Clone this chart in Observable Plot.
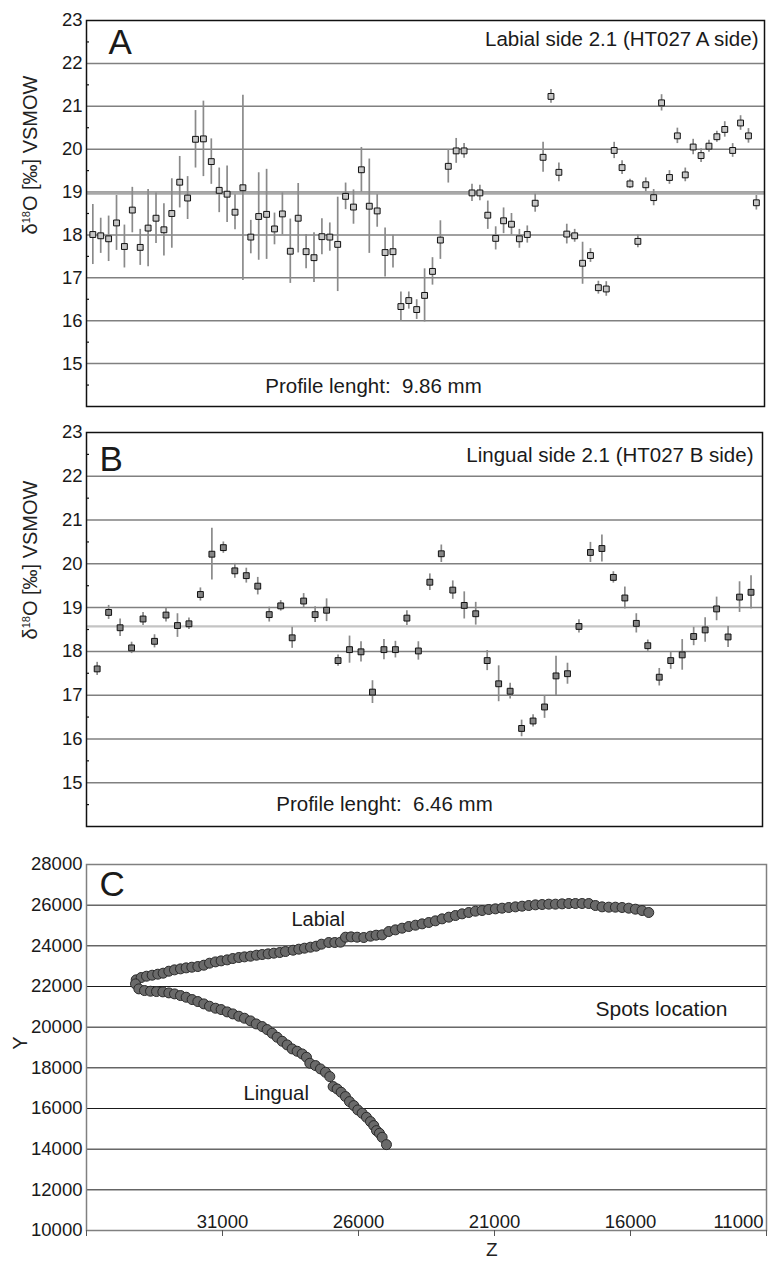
<!DOCTYPE html>
<html><head><meta charset="utf-8">
<script src="https://cdn.jsdelivr.net/npm/d3@7"></script>
<script src="https://cdn.jsdelivr.net/npm/@observablehq/plot@0.6"></script>
<style>
body{margin:0;background:#fff;font-family:"Liberation Sans",Arial,sans-serif;}
#wrap{position:relative;width:768px;height:1261px;overflow:hidden;background:#fff;}
.panel{position:absolute;left:0;}
.ylab{position:absolute;white-space:nowrap;text-align:center;transform:rotate(-90deg);color:#222;font-size:20px;height:24px;line-height:24px;width:220px;}
.ylab sup{font-size:11px;line-height:0;vertical-align:7px;}
.xlab{position:absolute;color:#222;font-size:19px;line-height:19px;}
</style></head><body><div id="wrap">
<div id="pa" class="panel" style="top:0"></div>
<div id="pb" class="panel" style="top:420px"></div>
<div id="pc" class="panel" style="top:840px"></div>
<div class="ylab" style="left:-80px;top:143px">δ<sup>18</sup>O [‰] VSMOW</div>
<div class="ylab" style="left:-80px;top:548px">δ<sup>18</sup>O [‰] VSMOW</div>
<div class="ylab" style="left:-90px;top:1031px">Y</div>
<div class="xlab" style="left:486px;top:1240px">Z</div>
</div>
<script>
// ---- Panel A: labial side, δ18O per spot (‰ VSMOW) and ± error
const labialD18O = [18.01,17.98,17.91,18.28,17.73,18.58,17.71,18.16,18.39,18.12,18.50,19.23,18.86,20.23,20.24,19.71,19.04,18.95,18.53,19.10,17.95,18.43,18.48,18.14,18.49,17.62,18.39,17.61,17.47,17.96,17.95,17.78,18.90,18.65,19.52,18.67,18.56,17.59,17.61,16.33,16.47,16.26,16.59,17.15,17.88,19.60,19.96,19.96,18.98,18.98,18.46,17.92,18.33,18.25,17.91,18.01,18.74,19.81,21.23,19.46,18.02,17.98,17.34,17.52,16.77,16.74,19.97,19.57,19.19,17.85,19.17,18.87,21.08,19.34,20.31,19.40,20.05,19.85,20.07,20.29,20.46,19.97,20.61,20.31,18.75];
const labialErr = [0.70,0.41,0.53,0.64,0.50,0.53,0.42,0.90,0.59,0.61,0.81,0.60,0.50,0.67,0.88,0.53,0.52,0.66,0.41,2.16,0.39,1.02,1.05,0.37,0.49,0.75,0.81,0.40,0.58,0.42,0.33,1.10,0.31,0.40,0.52,1.10,0.38,0.57,0.38,0.34,0.20,0.23,0.62,0.32,0.45,0.39,0.29,0.17,0.20,0.18,0.33,0.27,0.30,0.25,0.22,0.20,0.21,0.35,0.16,0.22,0.23,0.15,0.49,0.16,0.15,0.17,0.19,0.16,0.11,0.15,0.16,0.19,0.19,0.16,0.18,0.16,0.18,0.16,0.14,0.13,0.18,0.16,0.17,0.17,0.17];
const labialMean = 18.97;
// ---- Panel B: lingual side
const lingualD18O = [17.60,18.89,18.54,18.08,18.74,18.23,18.83,18.59,18.63,19.30,20.22,20.37,19.84,19.73,19.49,18.84,19.04,18.31,19.15,18.84,18.94,17.79,18.04,17.99,17.07,18.04,18.04,18.76,18.01,19.58,20.23,19.40,19.05,18.86,17.79,17.26,17.09,16.24,16.41,16.73,17.44,17.49,18.57,20.26,20.35,19.69,19.22,18.64,18.13,17.41,17.79,17.92,18.34,18.49,18.97,18.33,19.24,19.35];
const lingualErr = [0.15,0.16,0.20,0.13,0.15,0.15,0.16,0.27,0.13,0.15,0.59,0.13,0.17,0.17,0.20,0.17,0.12,0.24,0.17,0.18,0.26,0.13,0.31,0.23,0.26,0.23,0.19,0.17,0.21,0.19,0.20,0.21,0.31,0.26,0.23,0.41,0.18,0.19,0.14,0.26,0.45,0.24,0.15,0.23,0.31,0.13,0.25,0.22,0.13,0.20,0.20,0.35,0.21,0.28,0.27,0.24,0.35,0.38];
const lingualMean = 18.57;
const isoTicks = [15,16,17,18,19,20,21,22,23];
const isoGrid = [15,16,17,18,19,20,21,22];
const isoMinor = [14.5,15.5,16.5,17.5,18.5,19.5,20.5,21.5,22.5];
// ---- Panel C: spot locations (Z, Y)
const labialZ = [34174,33990,33794,33586,33378,33182,32973,32765,32544,32336,32128,31907,31687,31478,31258,31050,30829,30621,30400,30192,29971,29751,29542,29322,29114,28893,28685,28403,28195,27986,27766,27557,27361,27092,26871,26663,26479,26271,26050,25805,25560,25352,25132,24887,24642,24397,24152,23906,23661,23416,23171,22926,22681,22436,22191,21946,21701,21456,21211,20966,20721,20476,20231,19986,19741,19495,19250,19005,18760,18515,18270,18025,17780,17535,17290,17045,16800,16555,16310,16065,15820,15575,15329];
const labialY = [22326,22441,22506,22555,22605,22654,22752,22818,22867,22916,22949,22982,23047,23146,23211,23261,23310,23375,23425,23457,23490,23539,23572,23605,23638,23671,23720,23785,23835,23884,23933,23982,24081,24163,24163,24179,24425,24441,24425,24409,24474,24523,24540,24704,24786,24868,24950,25015,25081,25147,25229,25327,25409,25491,25573,25639,25704,25737,25786,25819,25852,25885,25917,25950,25983,26016,26032,26049,26049,26065,26081,26081,26081,26081,25983,25917,25901,25901,25885,25852,25803,25737,25639];
const lingualZ = [34199,34076,33868,33647,33427,33194,32973,32765,32544,32336,32116,31907,31687,31478,31258,31050,30829,30621,30400,30192,29971,29763,29542,29359,29175,28991,28807,28623,28440,28256,28072,27913,27790,27582,27398,27214,27055,26933,26786,26639,26479,26332,26172,26026,25866,25707,25560,25438,25339,25230,25131,24972];
const lingualY = [22129,21883,21801,21768,21752,21735,21686,21637,21555,21473,21358,21260,21145,21030,20932,20866,20751,20653,20538,20440,20309,20161,20030,19882,19702,19505,19308,19128,18931,18816,18685,18521,18226,18111,17947,17783,17570,17078,16963,16799,16586,16340,16143,15930,15766,15569,15356,15159,14913,14782,14585,14224];
const cYTicks = [10000,12000,14000,16000,18000,20000,22000,24000,26000,28000];
const cYGrid = [12000,14000,16000,18000,20000,22000,24000,26000];
const cXTicks = [36000,31000,26000,21000,16000,11000];
const cXLabels = [31000,26000,21000,16000];
const cXLabelEnd = [11000];

const FONT = "'Liberation Sans', Arial, sans-serif";

function isoPanel(opts) {
  const rows = opts.values.map((v, i) => ({spot: i + 1, v, lo: v - opts.errs[i], hi: v + opts.errs[i]}));
  const plotW = 768 - opts.ml - opts.mr;
  return Plot.plot({
    width: 768, height: opts.height,
    marginLeft: opts.ml, marginRight: opts.mr, marginTop: opts.mt, marginBottom: opts.mb,
    style: {fontFamily: FONT, fontSize: "18.5px", color: "#1a1a1a", background: "white"},
    x: {domain: opts.xdomain, axis: null},
    y: {domain: [14, 23], axis: null},
    marks: [
      Plot.ruleY(isoGrid, {stroke: "#808080", strokeWidth: 1.5}),
      Plot.ruleY([opts.mean], {stroke: opts.meanColor, strokeWidth: opts.meanWidth}),
      Plot.tickY(isoMinor, {stroke: "#111", strokeWidth: 1.2, insetRight: plotW - 3}),
      Plot.ruleX(rows, {x: "spot", y1: "lo", y2: "hi", stroke: "#8a8a8a", strokeWidth: 1.7}),
      Plot.dot(rows, {x: "spot", y: "v", symbol: "square", r: 3.3, fill: opts.fill, stroke: "#111", strokeWidth: 1}),
      Plot.frame({stroke: "#111", strokeWidth: 1.5}),
      Plot.axisY(isoTicks, {tickSize: 0, tickPadding: 4, tickFormat: d => String(d), fontSize: 18.5, label: null}),
      Plot.text([opts.letter], {frameAnchor: "top-left", dx: opts.letterDx, dy: opts.letterDy, lineAnchor: "bottom", fontSize: 35, fill: "#1a1a1a"}),
      Plot.text([opts.title], {frameAnchor: "top-right", dx: opts.titleDx, dy: opts.titleDy, lineAnchor: "bottom", fontSize: 20.5, fill: "#1a1a1a"}),
      Plot.text([opts.profile], {frameAnchor: "bottom", dx: opts.profDx, dy: opts.profDy, lineAnchor: "bottom", fontSize: 20.5, fill: "#1a1a1a"})
    ]
  });
}

document.getElementById("pa").append(isoPanel({
  values: labialD18O, errs: labialErr, mean: labialMean, meanColor: "#a8a8a8", meanWidth: 3,
  fill: "#c6c6c6", height: 420, ml: 86, mr: 4, mt: 20, mb: 14, xdomain: [0.2, 86.03],
  letter: "A", letterDx: 22, letterDy: 33,
  title: "Labial side 2.1 (HT027 A side)", titleDx: -6, titleDy: 25,
  profile: "Profile lenght:\u00a0 9.86 mm", profDx: -52, profDy: -14
}));

document.getElementById("pb").append(isoPanel({
  values: lingualD18O, errs: lingualErr, mean: lingualMean, meanColor: "#c4c4c4", meanWidth: 2.2,
  fill: "#858585", height: 420, ml: 86, mr: 6, mt: 12, mb: 14, xdomain: [0.07, 59.0],
  letter: "B", letterDx: 13, letterDy: 38,
  title: "Lingual side 2.1 (HT027 B side)", titleDx: -9, titleDy: 29,
  profile: "Profile lenght:\u00a0 6.46 mm", profDx: -40, profDy: -16
}));

const labialPts = labialZ.map((z, i) => ({z, Y: labialY[i]}));
const lingualPts = lingualZ.map((z, i) => ({z, Y: lingualY[i]}));

document.getElementById("pc").append(Plot.plot({
  width: 768, height: 421,
  marginLeft: 86, marginRight: 2, marginTop: 24, marginBottom: 31,
  style: {fontFamily: FONT, fontSize: "18.5px", color: "#1a1a1a", background: "white"},
  x: {domain: [36000, 11000], axis: null, label: null},
  y: {domain: [10000, 28000], axis: null, label: null},
  marks: [
    Plot.ruleY(cYGrid, {stroke: "#1a1a1a", strokeWidth: 1}),
    Plot.frame({stroke: "#808080", strokeWidth: 1.5}),
    Plot.axisX(cXTicks, {tickSize: 6, tickFormat: () => "", stroke: "#555", label: null}),
    Plot.axisY(cYTicks, {tickSize: 0, tickPadding: 4, tickFormat: d => String(d), fontSize: 18.5, label: null}),
    Plot.text(cXLabels, {x: d => d, frameAnchor: "bottom", dy: -3, lineAnchor: "bottom", text: d => String(d), fontSize: 18.5, fill: "#1a1a1a"}),
    Plot.text(cXLabelEnd, {x: d => d, frameAnchor: "bottom", dy: -3, dx: -3, lineAnchor: "bottom", textAnchor: "end", text: d => String(d), fontSize: 18.5, fill: "#1a1a1a"}),
    Plot.dot(labialPts, {x: "z", y: "Y", r: 5, fill: "#6a6a6a", stroke: "#2a2a2a", strokeWidth: 1}),
    Plot.dot(lingualPts, {x: "z", y: "Y", r: 5, fill: "#6a6a6a", stroke: "#2a2a2a", strokeWidth: 1}),
    Plot.text(["C"], {frameAnchor: "top-left", dx: 13, dy: 31, lineAnchor: "bottom", fontSize: 35, fill: "#1a1a1a"}),
    Plot.text(["Labial"], {frameAnchor: "top-left", dx: 205, dy: 61, lineAnchor: "bottom", fontSize: 20, fill: "#1a1a1a"}),
    Plot.text(["Lingual"], {frameAnchor: "top-left", dx: 157, dy: 235, lineAnchor: "bottom", fontSize: 20.3, fill: "#1a1a1a"}),
    Plot.text(["Spots location"], {frameAnchor: "top-left", dx: 509, dy: 151, lineAnchor: "bottom", fontSize: 21, fill: "#1a1a1a"})
  ]
}));
</script></body></html>
